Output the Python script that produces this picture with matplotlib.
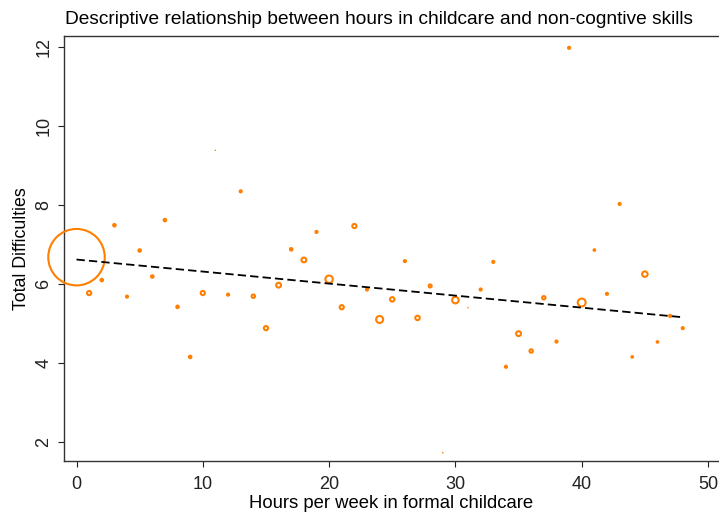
import numpy as np
import matplotlib
matplotlib.use("Agg")
import matplotlib.pyplot as plt

plt.rcParams['font.family'] = ['Liberation Sans', 'DejaVu Sans']

# hours per week in formal childcare
hours = list(range(0, 49))
# mean total difficulties score at each hour value
difficulties = [6.68, 5.77, 6.10, 7.49, 5.68, 6.85, 6.19, 7.62, 5.42, 4.15,
                5.77, 9.39, 5.73, 8.35, 5.69, 4.88, 5.97, 6.88, 6.61, 7.32,
                6.12, 5.41, 7.47, 5.86, 5.10, 5.61, 6.58, 5.14, 5.95, 1.72,
                5.59, 5.40, 5.86, 6.56, 3.90, 4.74, 4.30, 5.65, 4.54, 11.99,
                5.53, 6.86, 5.75, 8.03, 4.15, 6.25, 4.53, 5.19, 4.88]
# number of children behind each point (marker weight)
weights = [210, 2.0, 1.0, 1.0, 0.8, 1.0, 1.0, 1.0, 1.0, 1.0,
           2.0, 0.05, 0.8, 0.8, 1.5, 2.0, 2.5, 1.0, 2.5, 0.8,
           5.0, 2.0, 2.0, 0.8, 4.5, 2.2, 0.8, 2.2, 1.3, 0.05,
           4.0, 0.05, 0.8, 0.8, 0.8, 2.5, 1.5, 1.5, 0.8, 0.8,
           5.5, 0.6, 0.8, 0.8, 0.6, 3.0, 0.6, 0.8, 0.8]

# linear fit
fit_intercept = 6.62
fit_slope = -0.0305

orange = '#FF7F00'

fig = plt.figure(figsize=(7.19, 5.16), dpi=100)
ax = fig.add_axes([64 / 719, 55 / 516, (719 - 64) / 719, (461 - 36) / 516])

# marker outer diameter grows with sqrt(weight); thin ones end up filled
w = np.array(weights)
outer_pt = (4.0 * np.sqrt(w) + 0.6) * 72 / 100
lws = np.minimum(1.5, outer_pt / 2)
sizes = (outer_pt - lws) ** 2
ax.scatter(hours, difficulties, s=sizes, facecolors='none', edgecolors=orange,
           linewidths=lws, zorder=3, clip_on=False)

xfit = np.array([min(hours), max(hours)])
ax.plot(xfit, fit_intercept + fit_slope * xfit, color='black', lw=1.3,
        dashes=(4.6, 2.3), zorder=4)

ax.set_xlim(-0.99, 50.87)
ax.set_ylim(1.51, 12.29)
ax.set_xticks([0, 10, 20, 30, 40, 50])
ax.set_yticks([2, 4, 6, 8, 10, 12])
ax.tick_params(axis='both', direction='out', length=4.5, width=0.8,
               labelsize=13, colors='#222222')
ax.tick_params(axis='x', pad=6.5)
ax.tick_params(axis='y', pad=4)
for lbl in ax.get_yticklabels():
    lbl.set_rotation(90)
    lbl.set_va('center')
ax.spines['right'].set_visible(False)
for s in ['left', 'bottom', 'top']:
    ax.spines[s].set_linewidth(1.0)
    ax.spines[s].set_color('#333333')

ax.set_xlabel('Hours per week in formal childcare', fontsize=13.3, labelpad=1)
ax.set_ylabel('Total Difficulties', fontsize=12.8, labelpad=4)
fig.text(65 / 719, 1 - 23.5 / 516, 'Descriptive relationship between hours in childcare and non-cogntive skills',
         fontsize=13.8, ha='left', va='baseline')

fig.savefig('out.png', dpi=100)
